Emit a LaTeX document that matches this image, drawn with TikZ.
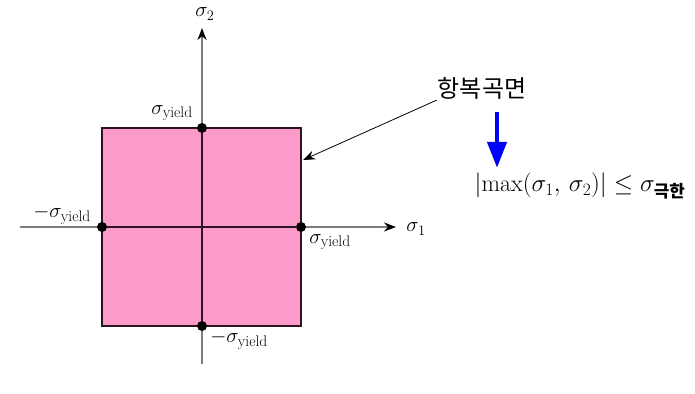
\documentclass[tikz,border=0pt]{standalone}
\usepackage{amsmath}
\usepackage{amssymb}
\usepackage{fontspec}
\usepackage{tikz}
\usetikzlibrary{arrows.meta}
\newfontfamily\kr{Noto Sans CJK KR}
\definecolor{yieldpink}{RGB}{252,154,202}
\definecolor{edgedark}{RGB}{45,20,35}
\definecolor{axisgrey}{RGB}{125,125,125}

\begin{document}
\begin{tikzpicture}[x=1pt, y=-1pt, >=Stealth,
  axisline/.style={draw=axisgrey, line width=1.8pt, -{Stealth[black,length=12pt,width=9pt]}},
  edgeline/.style={draw=edgedark, line width=1.8pt},
  dot/.style={circle, fill=black, inner sep=0pt, minimum size=10pt},
  lbl/.style={inner sep=1pt, font=\fontsize{22}{24}\selectfont},
  pointer/.style={black, line width=0.8pt, -{Stealth[length=12pt,width=9pt]}},
  bluearrow/.style={blue, line width=4.5pt, -{Triangle[length=26pt,width=19pt]}},
]
\useasboundingbox (0,0) rectangle (695,393);
% axes
\coordinate (xl) at (20,227);
\coordinate (xr) at (396,227);
\coordinate (yb) at (202,364);
\coordinate (yt) at (202,28);
\draw [axisline] (xl)--(xr);
\draw [axisline] (yb)--(yt);
% yield surface
\filldraw [fill=yieldpink, edgeline] (102,128) rectangle (301,326);
\node[dot] (top) at (202,128) {};
\node[dot] (bot) at (202,326) {};
\node[dot] (lft) at (102,227) {};
\node[dot] (rgt) at (301,227) {};
\draw [edgeline] (lft)--(rgt);
\draw [edgeline] (top)--(bot);
% axis labels
\node[lbl] (s2) at (205,14) {$\sigma_2$};
\node[lbl] (s1) at (416,229) {$\sigma_1$};
\node[lbl] (ty) at (172,113) {$\sigma_{\text{yield}}$};
\node[lbl] (ly) at (62,215) {$-\sigma_{\text{yield}}$};
\node[lbl] (ry) at (330,242) {$\sigma_{\text{yield}}$};
\node[lbl] (by) at (239,340) {$-\sigma_{\text{yield}}$};
% annotation
\node[lbl, font=\fontsize{24}{26}\selectfont] (hb) at (482,88) {\kr 항복곡면};
\coordinate (tip) at (303,160);
\draw [pointer] (hb.south west)--(tip);
\node[lbl, font=\fontsize{24}{26}\selectfont] (fm) at (580,186)
  {$\left|\max(\sigma_1,\,\sigma_2)\right|\leq\sigma_{\text{\kr\bfseries 극한}}$};
\coordinate (b1) at (497,112);
\draw [bluearrow, shorten >=4pt] (b1) -- (b1 |- fm.north);
\end{tikzpicture}
\end{document}
